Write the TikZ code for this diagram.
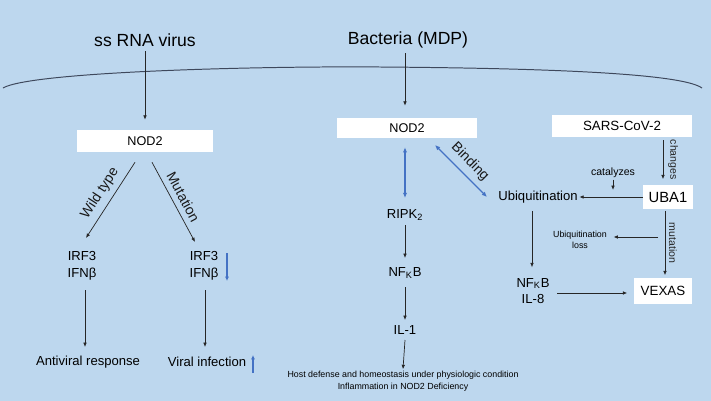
\documentclass[tikz,border=0pt]{standalone}
\usepackage{fontspec}
\setmainfont{Liberation Sans}
\usetikzlibrary{arrows.meta,positioning,calc}
\definecolor{bgBlue}{RGB}{189,215,238}
\definecolor{arrBlue}{RGB}{68,114,196}
\definecolor{memGray}{RGB}{62,72,92}
\newcommand{\fsz}[2]{\fontsize{#1}{#2}\selectfont}

\begin{document}
\begin{tikzpicture}[x=0.025cm,y=-0.025cm,
        headtxt/.style={font=\fsz{12.5}{15}},
        lbl/.style={font=\fsz{9.3}{12},align=center,inner sep=1pt},
        edgetxt/.style={font=\fsz{10}{12},inner sep=1pt,text=black!90},
        smalltxt/.style={font=\fsz{7.5}{9},align=center,inner sep=1pt},
        tinytxt/.style={font=\fsz{6.3}{8.5},align=center,inner sep=1pt},
        wbox/.style={fill=white,inner sep=0pt,minimum height=0.55cm},
        arrow/.style={-{Latex[length=1.1mm,width=0.9mm]},line width=0.5pt,black!85},
        barrow/.style={{Latex[length=1.3mm,width=1.1mm]}-{Latex[length=1.3mm,width=1.1mm]},line width=0.8pt,arrBlue},
        updown/.style={-{Latex[length=1.1mm,width=1mm]},line width=0.8pt,arrBlue}
      ]
        \fill[bgBlue] (0,0) rectangle (711,401);
        \draw[memGray,line width=0.7pt] (3,88) .. controls (30,72) and (250,66) .. (380,67)
          .. controls (520,68) and (680,72) .. (702,88);

        \node[headtxt] (ssrna) at (145,40) {ss RNA virus};
        \node[headtxt] (bact) at (408,40) {Bacteria (MDP)};
        \node[wbox,minimum width=3.4cm,font=\fsz{9}{10}] (nodl) at (145,141) {NOD2};
        \node[wbox,minimum width=3.5cm,minimum height=0.5cm,font=\fsz{9}{10}] (nodm) at (407,128) {NOD2};
        \node[wbox,minimum width=3.475cm,font=\fsz{9.5}{11}] (sars) at (622,126) {SARS-CoV-2};
        \node[wbox,minimum width=1.25cm,minimum height=0.575cm,font=\fsz{10.5}{12}] (uba) at (668,197) {UBA1};
        \node[wbox,minimum width=1.425cm,minimum height=0.625cm,font=\fsz{9.5}{11}] (vexas) at (663,291) {VEXAS};

        \node[lbl] (irfl) at (82,266) {IRF3\\IFNβ};
        \node[lbl] (irfr) at (204,266) {IRF3\\IFNβ};
        \node[lbl] (antiv) at (88,362) {Antiviral response};
        \node[lbl] (viral) at (207,362) {Viral infection};
        \node[lbl] (ripk) at (405,215) {RIPK\textsubscript{2}};
        \node[lbl] (nfkbm) at (405,273) {NF\textsubscript{K}B};
        \node[lbl] (il1) at (405,330) {IL-1};
        \node[tinytxt] (host) at (403,381) {Host defense and homeostasis under physiologic condition\\Inflammation in NOD2 Deficiency};
        \node[lbl] (ubiq) at (538,197) {Ubiquitination};
        \node[lbl] (nfkbr) at (533,291) {NF\textsubscript{K}B\\IL-8};
        \node[tinytxt,font=\fsz{6.3}{7.5}] (uloss) at (580,240) {Ubiquitination\\loss};
        \node[smalltxt] (catal) at (613,173) {catalyzes};
        \coordinate (catend) at (613,190);
        \coordinate (lossbeg) at (658,237);

        \draw[arrow] (ssrna.south) -- ($(nodl.north)+(0,-10)$);
        \draw[arrow] ($(bact.south)+(-3,0)$) -- ($(nodm.north)+(-2,-12)$);
        \draw[arrow] ($(nodl.south)+(-10,10)$) -- node[sloped,above=3pt,edgetxt]{Wild type} ($(irfl.center)+(4,-28)$);
        \draw[arrow] ($(nodl.south)+(7,10)$) -- node[sloped,above=3pt,edgetxt]{Mutation} ($(irfr.center)+(-9,-24)$);
        \draw[arrow] ($(irfl.center)+(3,24)$) -- ($(antiv.center)+(-3,-15)$);
        \draw[arrow] ($(irfr.center)+(1,24)$) -- ($(viral.center)+(-2,-15)$);
        \draw[updown] ($(irfr.center)+(23,-13)$) -- ++(0,28);
        \draw[updown] ($(viral.center)+(46,11)$) -- ++(0,-18);

        \draw[barrow] ($(nodm.south)+(-2,9)$) -- ($(ripk.center)+(0,-17)$);
        \draw[barrow] ($(nodm.center)+(28,17)$) -- node[sloped,above=3pt,edgetxt]{Binding} ($(ubiq.center)+(-51,0)$);
        \draw[arrow] ($(ripk.center)+(0,10)$) -- ($(nfkbm.center)+(0,-15)$);
        \draw[arrow] ($(nfkbm.center)+(0,14)$) -- ($(il1.center)+(0,-10)$);
        \draw[arrow] ($(il1.center)+(0,10)$) -- (host.north);

        \draw[arrow] ($(sars.south)+(41,3)$) -- node[midway,xshift=0.25cm,rotate=-90,smalltxt]{changes} ($(uba.north)+(-5,-6)$);
        \draw[arrow] (uba.west) -- (ubiq.east);
        \draw[arrow] (catal.south) -- (catend);
        \draw[arrow] ($(ubiq.south)+(-6,6)$) -- ($(nfkbr.north)+(-1,-9)$);
        \draw[arrow] ($(uba.south)+(-3,2)$) -- node[midway,xshift=0.2cm,rotate=-90,smalltxt]{mutation} ($(vexas.north)+(2,-3)$);
        \draw[arrow] (lossbeg) -- ($(uloss.east)+(5,-3)$);
        \draw[arrow] ($(nfkbr.east)+(6,2)$) -- ($(vexas.west)+(-7,2)$);
      \end{tikzpicture}
\end{document}
